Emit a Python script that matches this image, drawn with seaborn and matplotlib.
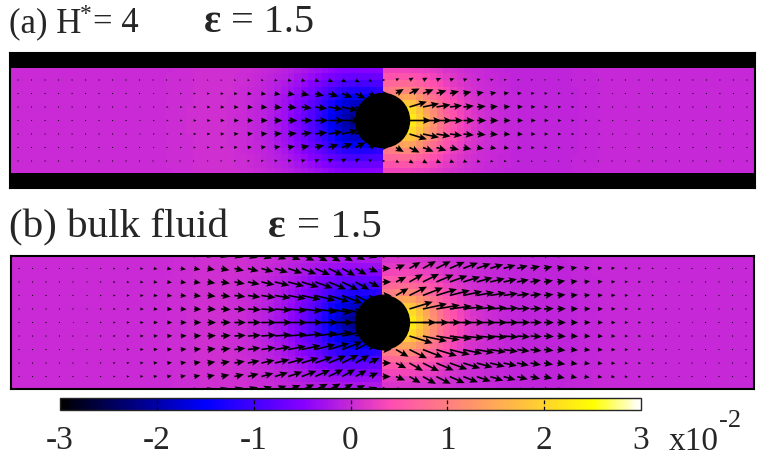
import numpy as np
import matplotlib
matplotlib.use("Agg")
import matplotlib.pyplot as plt
import seaborn as sns
from matplotlib.colors import ListedColormap
from matplotlib.patches import Circle, Rectangle

# ---------------------------------------------------------------- data
# colour scale (values in units of 1e-2)
cbar_ticks = [-3, -2, -1, 0, 1, 2, 3]
cbar_labels = ["-3", "-2", "-1", "0", "1", "2", "3"]
vmin, vmax = -3.0, 3.0

# geometry, lengths in particle radii
x_half = 13.8          # half length of the box
y_half_a = 2.5         # half height of panel (a) incl. walls
y_half_b = 2.46        # half height of panel (b)
channel_half = 1.93    # half gap between the walls in (a)
radius = 1.0
cell = 0.25            # mesh size of the scalar field
arrow_step = 0.5       # spacing of the velocity vectors

# scalar field: peak values behind / in front of the particle,
# decay lengths along the axis and across it
neg_amp, neg_len, neg_side, neg_pow, neg_floor = 2.2, 1.75, 0.9, 1.5, 0.55
pos_amp, pos_len, pos_side, pos_pow, pos_floor = 2.4, 1.17, 0.8, 1.4, 0.4
tail_amp, tail_r, tail_w = 0.07, 6.0, 2.0

# velocity field: centreline magnitude and decay
flow_a = dict(amp=0.8, length=3.0, power=1.0)
flow_b = dict(amp=1.0, length=5.0, power=1.5)
flow_tilt = 2.0

titles_a = [("(a) H", 9, 32, 25, "normal"), ("*", 80, 20, 17, "normal"),
            ("= 4", 93, 32, 25, "normal"), ("ε", 204, 32, 29, "bold"),
            ("= 1.5", 231, 32, 29, "normal")]
titles_b = [("(b) bulk fluid", 9, 237, 29.5, "normal"), ("ε", 268, 237, 29.5, "bold"),
            ("= 1.5", 297, 237, 29.5, "normal")]

# ---------------------------------------------------------------- style
sns.set_style("white")
plt.rcParams["font.family"] = ["Liberation Serif", "DejaVu Serif"]

W, H = 757, 457
fig = plt.figure(figsize=(W / 100, H / 100), dpi=100)


def rect(left, top, right, bottom):
    return [left / W, 1 - bottom / H, (right - left) / W, (bottom - top) / H]


def palette(t):
    # black - blue - violet - yellow - white
    r = np.clip(t / 0.32 - 0.78125, 0, 1)
    g = np.clip(2 * t - 0.84, 0, 1)
    b = np.where(t < 0.25, 4 * t,
                 np.where(t < 0.42, 1.0,
                          np.where(t < 0.92, -2 * t + 1.84, t / 0.08 - 11.5)))
    b = np.clip(b, 0, 1)
    return np.column_stack([r, g, b])


cmap = ListedColormap(palette(np.linspace(0, 1, 256)))


def lobe(d, c2, amp, along, side, power, floor):
    length = along * c2 + side * (1 - c2)
    return amp * np.exp(-(d / length) ** power) * (floor + (1 - floor) * c2)


def scalar_field(x, y):
    r = np.hypot(x, y)
    d = np.clip(r - radius, 0, None)
    c2 = (x / np.maximum(r, 1e-9)) ** 2
    tail = tail_amp * np.exp(-((r - tail_r) / tail_w) ** 2)
    neg = -lobe(d, c2, neg_amp, neg_len, neg_side, neg_pow, neg_floor) + tail
    pos = lobe(d, c2, pos_amp, pos_len, pos_side, pos_pow, pos_floor) - tail
    return np.where(x < 0, neg, pos)


def velocity(x, y, amp, length, power, wall=None):
    r = np.hypot(x, y)
    d = np.clip(r - radius, 0, None)
    ex, ey = x / r, y / r
    f = amp * np.exp(-(d / length) ** power) / (1 + flow_tilt)
    u = f * (1 + flow_tilt * ex * ex)
    v = f * flow_tilt * ex * ey
    if wall is not None:
        w = np.clip(1 - (np.abs(y) / wall) ** 2.5, 0, 1)
        u, v = u * w, v * w
    return u, v


def panel(box, y_half, flow, walls):
    nx = int(round(2 * x_half / cell))
    ny = int(round(2 * y_half / cell))
    xc = -x_half + (np.arange(nx) + 0.5) * (2 * x_half / nx)
    yc = y_half - (np.arange(ny) + 0.5) * (2 * y_half / ny)
    XC, YC = np.meshgrid(xc, yc)
    field = scalar_field(XC, YC)

    ax_img = fig.add_axes(rect(*box))
    sns.heatmap(field, ax=ax_img, cmap=cmap, vmin=vmin, vmax=vmax, cbar=False,
                xticklabels=False, yticklabels=False, rasterized=True)
    ax_img.set_axis_off()

    ax = fig.add_axes(rect(*box))
    ax.patch.set_visible(False)
    ax.set_xlim(-x_half, x_half)
    ax.set_ylim(-y_half, y_half)
    ax.set_xticks([])
    ax.set_yticks([])
    for s in ax.spines.values():
        s.set_visible(True)
        s.set_color("black")
        s.set_linewidth(1.5)

    kx = np.arange(-27, 28) * arrow_step
    ky_max = channel_half - 0.3 if walls else y_half + 0.05
    ky = np.arange(-6, 7) * arrow_step
    ky = ky[np.abs(ky) <= ky_max]
    X, Y = np.meshgrid(kx, ky)
    keep = np.hypot(X, Y) >= radius - 1e-6
    X, Y = X[keep], Y[keep]
    U, V = velocity(X, Y, wall=channel_half if walls else None, **flow)
    ax.quiver(X, Y, U, V, angles="xy", scale_units="xy", scale=1, pivot="tail",
              units="dots", width=1.6, headwidth=4.4, headlength=5.0,
              headaxislength=4.3, minshaft=1, minlength=0.8, color="black", zorder=3)

    if walls:
        for y0 in (channel_half, -y_half):
            ax.add_patch(Rectangle((-x_half, y0), 2 * x_half, y_half - channel_half,
                                   facecolor="black", edgecolor="none", zorder=4))
    ax.add_patch(Circle((0, 0), radius, facecolor="black", edgecolor="black", zorder=5))
    return ax_img


img_a = panel((10, 53, 755, 188), y_half_a, flow_a, walls=True)
img_b = panel((11, 256, 754, 389), y_half_b, flow_b, walls=False)

for txt, x, y, size, weight in titles_a + titles_b:
    fig.text(x / W, 1 - y / H, txt, fontsize=size, fontweight=weight,
             ha="left", va="baseline")

# colour bar
cax = fig.add_axes(rect(60, 398, 641, 410))
cb = fig.colorbar(img_b.collections[0], cax=cax, orientation="horizontal")
cb.set_ticks(cbar_ticks)
cb.set_ticklabels(cbar_labels)
cb.ax.tick_params(length=0, pad=11, labelsize=24)
cb.outline.set_linewidth(1.0)
for t in cbar_ticks[1:-1]:
    cax.axvline(t, color="black", lw=0.9, ls=(0, (3, 2)))
fig.text(669 / W, 1 - 450 / H, "x10", fontsize=24, ha="left", va="baseline")
fig.text(719 / W, 1 - 427 / H, "-2", fontsize=19, ha="left", va="baseline")

fig.savefig("out.png", dpi=100)
